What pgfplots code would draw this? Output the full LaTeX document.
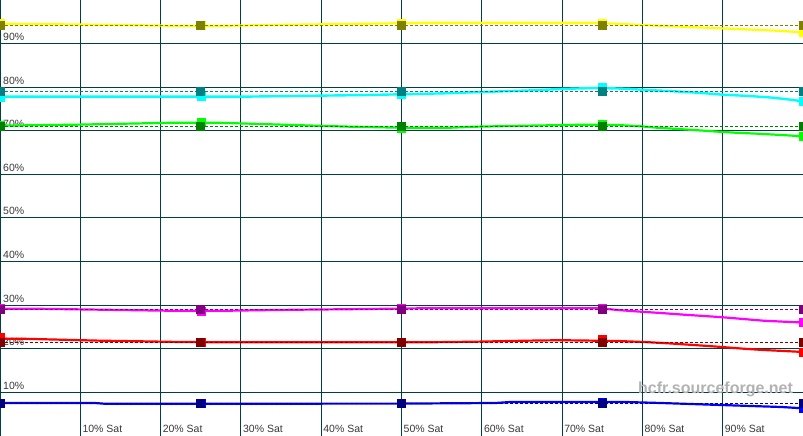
\documentclass[border=0pt]{standalone}
\usepackage{pgfplots}
\pgfplotsset{compat=1.18}
\usepackage{fontspec}
\setmainfont{Liberation Sans}
\definecolor{gridc}{RGB}{0,64,64}
\definecolor{cY}{RGB}{255,255,0}
\definecolor{cC}{RGB}{0,255,255}
\definecolor{cG}{RGB}{0,255,0}
\definecolor{cM}{RGB}{255,0,255}
\definecolor{cR}{RGB}{255,0,0}
\definecolor{cB}{RGB}{0,0,255}
\definecolor{dY}{RGB}{128,128,0}
\definecolor{dC}{RGB}{0,128,128}
\definecolor{dG}{RGB}{0,128,0}
\definecolor{dM}{RGB}{128,0,128}
\definecolor{dR}{RGB}{128,0,0}
\definecolor{dB}{RGB}{0,0,128}
\definecolor{txt}{RGB}{56,56,56}
\begin{document}
\begin{tikzpicture}
\begin{axis}[
  at={(0,0)}, anchor=south west,
  scale only axis, width=803pt, height=436pt,
  xmin=0, xmax=100, ymin=0, ymax=100,
  axis line style={draw=none},
  major tick length=0pt,
  grid=major,
  major grid style={draw=gridc, line width=1pt},
  xtick={0,10,20,30,40,50,60,70,80,90},
  xticklabels={,10\% Sat,20\% Sat,30\% Sat,40\% Sat,50\% Sat,60\% Sat,70\% Sat,80\% Sat,90\% Sat},
  ytick={10,20,30,40,50,60,70,80,90},
  yticklabels={10\%,20\%,30\%,40\%,50\%,60\%,70\%,80\%,90\%},
  xticklabel style={anchor=base west, inner sep=0pt, xshift=2pt, yshift=3pt, font=\fontsize{10.5}{12}\selectfont, text=txt},
  yticklabel style={anchor=base west, inner sep=0pt, xshift=3pt, yshift=3pt, font=\fontsize{10.5}{12}\selectfont, text=txt},
  clip marker paths=true,
]
% watermark
\node[anchor=base west, inner sep=0pt, text=black!30, font=\bfseries\fontsize{16}{19}\selectfont] at (axis cs:79.45,9.86) {hcfr.sourceforge.net};
% ---- measured (bright) lines
\addplot[cY, line width=2.2pt, no marks] coordinates {
(0,94.56)(12.47,94.33)(20.8,94.11)(28.7,94.11)(36.2,94.33)(45.8,94.56)(53.6,94.79)(73.6,94.79)(76.7,94.56)(79.2,94.33)(82.0,94.11)(84.8,93.88)(87.9,93.65)(90.8,93.42)(93.8,93.19)(96.6,92.96)(100,92.59)};
\addplot[cC, line width=2.4pt, no marks] coordinates {
(0,77.82)(29.9,77.82)(37.4,78.0)(45.8,78.21)(51.7,78.44)(55.4,78.60)(58.9,78.83)(62.6,79.06)(66.5,79.29)(69.8,79.59)(74.2,79.82)(76.9,79.70)(78.6,79.59)(80.4,79.36)(83.3,79.13)(86.0,78.83)(87.9,78.60)(90.0,78.28)(93.3,77.98)(96.3,77.59)(98.8,77.06)(100,76.72)};
\addplot[cG, line width=2.2pt, no marks] coordinates {
(0,71.17)(6.2,71.33)(9.4,71.40)(15.6,71.63)(21.8,71.86)(26.8,71.86)(31.2,71.63)(35.3,71.40)(39.3,71.17)(43.6,70.94)(49.9,70.71)(56.1,70.71)(59.2,70.94)(65.5,71.17)(72.7,71.40)(76.9,71.33)(79.8,71.03)(81.8,70.71)(83.8,70.48)(85.8,70.25)(87.7,70.02)(89.5,69.79)(91.6,69.56)(94.4,69.33)(97.3,69.04)(99.3,68.81)(100,68.65)};
\addplot[cM, line width=2.2pt, no marks] coordinates {
(0,29.20)(4.1,29.20)(12.5,28.97)(20.8,28.74)(28.7,28.74)(31.7,28.83)(37.4,28.97)(45.9,29.13)(52.4,29.29)(74.8,29.29)(76.9,28.90)(79.8,28.51)(82.3,28.21)(85.2,27.82)(87.7,27.52)(90.1,27.22)(92.6,26.83)(95.1,26.44)(97.6,26.22)(100,26.03)};
\addplot[cR, line width=2.2pt, no marks] coordinates {
(0,22.32)(2.5,22.32)(7.5,22.09)(12.5,21.86)(17.5,21.72)(22.4,21.56)(28.1,21.49)(53.0,21.49)(59.2,21.63)(65.5,21.86)(69.8,21.97)(76.9,21.79)(80.2,21.56)(83.2,21.26)(86.4,20.87)(89.4,20.48)(92.6,20.02)(95.1,19.72)(97.6,19.50)(100,19.27)};
\addplot[cB, line width=2.2pt, no marks] coordinates {
(0,7.57)(11.8,7.57)(13.1,7.39)(49.9,7.43)(61.7,7.57)(63.6,7.80)(77.9,7.80)(82.3,7.57)(86.0,7.34)(89.8,7.11)(93.5,6.88)(97.3,6.65)(100,6.35)};
% ---- measured squares
\addplot[only marks, mark=square*, mark size=4pt, cY, mark options={draw=cY, fill=cY}] coordinates {(0,94.7)(25,94.11)(50,94.7)(75,94.7)(100,92.6)};
\addplot[only marks, mark=square*, mark size=4pt, cC, mark options={draw=cC, fill=cC}] coordinates {(0,77.8)(25,77.82)(50,78.5)(75,80.1)(100,76.7)};
\addplot[only marks, mark=square*, mark size=4pt, cG, mark options={draw=cG, fill=cG}] coordinates {(0,71.2)(25,72.0)(50,70.7)(75,71.56)(100,68.65)};
\addplot[only marks, mark=square*, mark size=4pt, cM, mark options={draw=cM, fill=cM}] coordinates {(0,29.2)(25,28.67)(50,29.3)(75,29.3)(100,26.0)};
\addplot[only marks, mark=square*, mark size=4pt, cR, mark options={draw=cR, fill=cR}] coordinates {(0,22.7)(25,21.5)(50,21.5)(75,22.2)(100,19.2)};
\addplot[only marks, mark=square*, mark size=4pt, cB, mark options={draw=cB, fill=cB}] coordinates {(0,7.57)(25,7.5)(50,7.5)(75,7.8)(100,6.35)};
% ---- reference (dark dashed) lines with squares
\addplot[dY, line width=1pt, dash pattern=on 3pt off 2pt, mark=square*, mark size=4pt, mark options={solid, draw=dY, fill=dY}] coordinates {(0,94.04)(25,94.04)(50,94.04)(75,94.04)(100,94.04)};
\addplot[dC, line width=1pt, dash pattern=on 3pt off 2pt, mark=square*, mark size=4pt, mark options={solid, draw=dC, fill=dC}] coordinates {(0,78.9)(25,78.9)(50,78.9)(75,78.9)(100,78.9)};
\addplot[dG, line width=1pt, dash pattern=on 3pt off 2pt, mark=square*, mark size=4pt, mark options={solid, draw=dG, fill=dG}] coordinates {(0,71.03)(25,71.03)(50,71.03)(75,71.03)(100,71.03)};
\addplot[dM, line width=1pt, dash pattern=on 3pt off 2pt, mark=square*, mark size=4pt, mark options={solid, draw=dM, fill=dM}] coordinates {(0,29.06)(25,29.06)(50,29.06)(75,29.06)(100,29.06)};
\addplot[dR, line width=1pt, dash pattern=on 3pt off 2pt, mark=square*, mark size=4pt, mark options={solid, draw=dR, fill=dR}] coordinates {(0,21.49)(25,21.49)(50,21.49)(75,21.49)(100,21.49)};
\addplot[dB, line width=1pt, dash pattern=on 3pt off 2pt, mark=square*, mark size=4pt, mark options={solid, draw=dB, fill=dB}] coordinates {(0,7.5)(25,7.5)(50,7.5)(75,7.5)(100,7.5)};
\end{axis}
\pgfresetboundingbox
\path[use as bounding box] (0,0) rectangle (803pt,436pt);
\end{tikzpicture}
\end{document}
